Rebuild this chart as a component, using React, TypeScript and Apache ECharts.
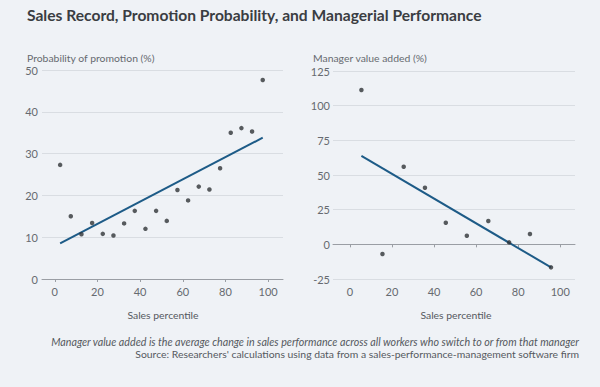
import React, { useEffect, useRef } from "react";
import * as echarts from "echarts";

const promoX = [2.5, 7.5, 12.5, 17.5, 22.5, 27.5, 32.5, 37.5, 42.5, 47.5, 52.5, 57.5, 62.5, 67.5, 72.5, 77.5, 82.5, 87.5, 92.5, 97.5];
const promoY = [27.3, 15.0, 10.7, 13.4, 10.8, 10.4, 13.3, 16.3, 12.0, 16.3, 13.9, 21.3, 18.8, 22.1, 21.4, 26.5, 35.0, 36.1, 35.3, 47.6];
const promoFitX = [2.5, 97.5];
const promoFitY = [8.5, 33.8];

const mgrX = [5.5, 15.5, 25.6, 35.7, 45.6, 55.6, 65.8, 75.7, 85.6, 95.6];
const mgrY = [111.3, -7.0, 55.9, 40.8, 15.6, 6.2, 16.8, 1.4, 7.4, -16.6];
const mgrFitX = [5.5, 95.6];
const mgrFitY = [63.8, -16.6];

const xTicks = [0, 20, 40, 60, 80, 100];

const FONT = "Lato";
const BG = "#eff2f6";
const LABEL = "#666a70";

export default function App() {
  const ref = useRef<HTMLDivElement>(null);
  useEffect(() => {
    const chart = echarts.init(ref.current!, null, { renderer: "svg" });
    const xAxisBase = (gridIndex: number, min: number, max: number) => ({
      type: "value" as const,
      gridIndex,
      min,
      max,
      splitLine: { show: false },
      axisLine: { show: true, lineStyle: { color: "#9a9ea4", width: 1 } },
      axisTick: { show: true, length: 3, customValues: xTicks, lineStyle: { color: "#9a9ea4" } },
      axisLabel: { customValues: xTicks, color: LABEL, fontFamily: FONT, fontSize: 11, margin: 7 },
    });
    const yAxisBase = (gridIndex: number, min: number, max: number, interval: number, margin: number) => ({
      type: "value" as const,
      gridIndex,
      min,
      max,
      interval,
      axisLine: { show: false },
      axisTick: { show: false },
      splitLine: { show: true, lineStyle: { color: "#d9dde2", width: 1 } },
      axisLabel: { color: LABEL, fontFamily: FONT, fontSize: 11, margin },
    });
    const pts = (xs: number[], ys: number[]) => xs.map((x, i) => [x, ys[i]]);
    chart.setOption({
      animation: false,
      backgroundColor: BG,
      grid: [
        { left: 42, top: 70, width: 241, height: 209 },
        { left: 333, top: 71, width: 242, height: 208 },
      ],
      xAxis: [xAxisBase(0, -6, 107), xAxisBase(1, -8, 107)],
      yAxis: [yAxisBase(0, 0, 50, 10, 4), yAxisBase(1, -25, 125, 25, 3)],
      graphic: [
        { type: "text", x: 27, y: 15, style: { text: "Sales Record, Promotion Probability, and Managerial Performance", font: `bold 15.6px ${FONT}`, fill: "#3a3d42", verticalAlign: "middle" } },
        { type: "text", x: 27, y: 58, style: { text: "Probability of promotion (%)", font: `10.4px ${FONT}`, fill: LABEL, verticalAlign: "middle" } },
        { type: "text", x: 313, y: 58, style: { text: "Manager value added (%)", font: `10.4px ${FONT}`, fill: LABEL, verticalAlign: "middle" } },
        { type: "text", x: 163, y: 315, style: { text: "Sales percentile", font: `10.4px ${FONT}`, fill: "#55595e", align: "center", verticalAlign: "middle" } },
        { type: "text", x: 456, y: 315, style: { text: "Sales percentile", font: `10.4px ${FONT}`, fill: "#55595e", align: "center", verticalAlign: "middle" } },
        { type: "text", x: 579, y: 341, style: { text: "Manager value added is the average change in sales performance across all workers who switch to or from that manager", font: `italic 10.7px ${FONT}`, fill: "#55595e", align: "right", verticalAlign: "middle" } },
        { type: "text", x: 579, y: 354, style: { text: "Source: Researchers' calculations using data from a sales-performance-management software firm", font: `10.4px ${FONT}`, fill: "#55595e", align: "right", verticalAlign: "middle" } },
      ],
      series: [
        { type: "line", xAxisIndex: 0, yAxisIndex: 0, data: pts(promoFitX, promoFitY), symbol: "none", lineStyle: { color: "#1d5b87", width: 2 }, z: 2 },
        { type: "scatter", xAxisIndex: 0, yAxisIndex: 0, data: pts(promoX, promoY), symbolSize: 4.5, itemStyle: { color: "#2f3337" }, z: 3 },
        { type: "line", xAxisIndex: 1, yAxisIndex: 1, data: pts(mgrFitX, mgrFitY), symbol: "none", lineStyle: { color: "#1d5b87", width: 2 }, z: 2 },
        { type: "scatter", xAxisIndex: 1, yAxisIndex: 1, data: pts(mgrX, mgrY), symbolSize: 4.5, itemStyle: { color: "#2f3337" }, z: 3 },
      ],
    });
    return () => chart.dispose();
  }, []);
  return <div ref={ref} style={{ width: 600, height: 387, position: "absolute", left: 0, top: 0 }} />;
}
